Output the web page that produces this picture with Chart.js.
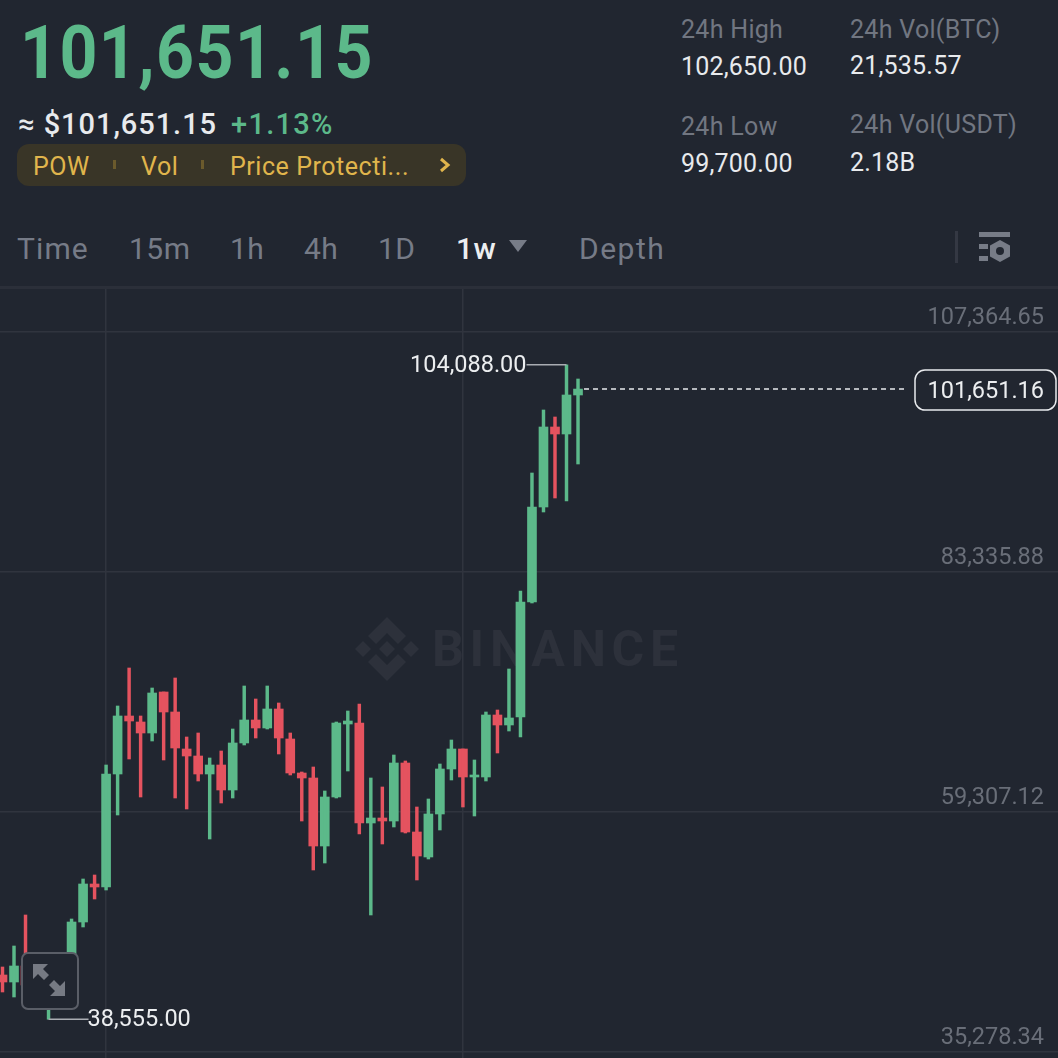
<!DOCTYPE html>
<html>
<head>
<meta charset="utf-8">
<script src="https://cdn.jsdelivr.net/npm/chart.js@4"></script>
<style>
  html, body { margin: 0; padding: 0; background: #212630; }
  body { width: 1058px; height: 1058px; position: relative; overflow: hidden; font-family: Roboto, sans-serif; }
  .t { position: absolute; white-space: nowrap; line-height: 1; }
  .label { font-size: 25px; color: #717681; letter-spacing: 0.3px; }
  .val { font-size: 25px; color: #e8eaed; letter-spacing: 0.2px; }
  .tab { font-size: 30px; color: #767b87; top: 234px; letter-spacing: 0.5px; }
  .chip { font-size: 25px; color: #e0b54c; top: 154px; letter-spacing: 0.55px; }
  .sep { position: absolute; top: 160px; width: 3px; height: 9px; background: #6b5a2c; }
  #chartBox { position: absolute; left: 0; top: 289px; width: 1058px; height: 769px; }
</style>
</head>
<body>
<span class="t" style="left:20px;top:16px;font-size:74px;font-weight:700;color:#5cb98a;letter-spacing:1.6px;transform:scaleX(0.895);transform-origin:left top">101,651.15</span>
<span class="t" style="left:18px;top:110px;font-size:29px;font-weight:500;color:#e8eaed;letter-spacing:0.95px">≈ $101,651.15</span>
<span class="t" style="left:231px;top:110px;font-size:29px;font-weight:500;color:#5cb98a;letter-spacing:1.3px">+1.13%</span>

<div style="position:absolute;left:17px;top:144px;width:449px;height:42px;border-radius:12px;background:#393527"></div>
<span class="t chip" style="left:33px">POW</span>
<div class="sep" style="left:113px"></div>
<span class="t chip" style="left:141px">Vol</span>
<div class="sep" style="left:201px"></div>
<span class="t chip" style="left:230px">Price Protecti...</span>
<svg style="position:absolute;left:438px;top:157px" width="14" height="16"><path d="M3 2 L10 8 L3 14" fill="none" stroke="#e0b54c" stroke-width="3"/></svg>

<span class="t label" style="left:681px;top:17px">24h High</span>
<span class="t val" style="left:681px;top:54px">102,650.00</span>
<span class="t label" style="left:850px;top:17px">24h Vol(BTC)</span>
<span class="t val" style="left:850px;top:53px">21,535.57</span>
<span class="t label" style="left:681px;top:114px">24h Low</span>
<span class="t val" style="left:681px;top:151px">99,700.00</span>
<span class="t label" style="left:850px;top:112px">24h Vol(USDT)</span>
<span class="t val" style="left:850px;top:150px">2.18B</span>

<span class="t tab" style="left:17px;letter-spacing:1.1px">Time</span>
<span class="t tab" style="left:129px">15m</span>
<span class="t tab" style="left:230px">1h</span>
<span class="t tab" style="left:304px">4h</span>
<span class="t tab" style="left:378px">1D</span>
<span class="t tab" style="left:456px;color:#eceef0;font-weight:500">1w</span>
<svg style="position:absolute;left:509px;top:240px" width="18" height="12"><path d="M0 0 H18 L9 12 Z" fill="#777c87"/></svg>
<span class="t tab" style="left:579px;letter-spacing:1.5px">Depth</span>
<div style="position:absolute;left:955px;top:231px;width:3px;height:32px;background:#343843"></div>
<svg style="position:absolute;left:979px;top:231px" width="32" height="32">
  <rect x="0" y="1" width="31" height="5" fill="#777c87"/>
  <rect x="0" y="13" width="9" height="5" fill="#777c87"/>
  <rect x="0" y="25" width="9" height="5" fill="#777c87"/>
  <path d="M21 9 L31 14.5 V25.5 L21 31 L11 25.5 V14.5 Z" fill="#777c87"/>
  <circle cx="21" cy="20" r="4" fill="#212630"/>
</svg>
<div style="position:absolute;left:0;top:286px;width:1058px;height:3px;background:#2b2f39"></div>

<svg style="position:absolute;left:354px;top:616px" width="66" height="66" viewBox="0 0 66 66" fill="#2d313b">
  <path d="M33 1 L52 20 L44 28 L33 17 L22 28 L14 20 Z"/>
  <path d="M33 65 L52 46 L44 38 L33 49 L22 38 L14 46 Z"/>
  <path d="M33 25 L41 33 L33 41 L25 33 Z"/>
  <path d="M9 25 L17 33 L9 41 L1 33 Z"/>
  <path d="M57 25 L65 33 L57 41 L49 33 Z"/>
</svg>
<span class="t" style="left:432px;top:624px;font-size:50px;font-weight:700;color:#2d313b;letter-spacing:5.7px">BINANCE</span>

<div id="chartBox"><canvas id="chart" width="1058" height="769"></canvas></div>

<div style="position:absolute;left:21px;top:952px;width:54px;height:54px;border:2px solid #5a5e67;border-radius:7px;background:#212630"></div>
<svg style="position:absolute;left:32px;top:963px" width="34" height="34" fill="#767a83">
  <path d="M1 1 H16 L11 6 L17 12 L12 17 L6 11 L1 16 Z"/>
  <path d="M33 33 H18 L23 28 L17 22 L22 17 L28 23 L33 18 Z"/>
</svg>

<script>
// weekly BTC/USDT candles, oldest first
var opens = [42988, 42287, 43889, 40485, 40485, 42988, 44490, 48294, 52099, 51799, 63112, 68919, 68318, 67217, 71322, 69320, 65615, 64914, 63112, 64013, 61510, 66216, 68519, 67718, 69620, 66616, 63212, 62712, 55903, 60809, 68118, 68218, 58206, 58707, 58406, 64213, 57305, 54802, 59107, 63613, 65615, 62812, 62812, 69019, 68018, 68819, 80333, 89844, 97854, 97153, 101058];
var highs = [43789, 45891, 48995, 42487, 43989, 44990, 48595, 52600, 53000, 64013, 69920, 73725, 68919, 71722, 71322, 72724, 66817, 67217, 64714, 65415, 67618, 71923, 70621, 71923, 70221, 67217, 63312, 63813, 61410, 68318, 69420, 70121, 62712, 61811, 65014, 64414, 59808, 60609, 64113, 66516, 65615, 64514, 69320, 69520, 73625, 81434, 93248, 99556, 98855, 104088, 102660];
var lows = [41286, 40785, 40685, 40185, 38555, 41987, 43989, 47794, 50597, 51498, 59007, 64614, 60809, 66416, 64514, 60709, 59608, 62411, 56604, 60209, 60709, 66016, 66716, 67618, 65115, 63012, 58406, 53501, 54201, 60709, 63412, 57105, 48995, 56104, 57806, 57205, 52499, 54602, 57505, 62511, 59808, 58907, 62411, 65215, 67417, 66817, 80233, 89344, 90745, 90445, 94149];
var closes = [42287, 43889, 41987, 41987, 42988, 44490, 48294, 52099, 51799, 63112, 68919, 68418, 67217, 71222, 69320, 65715, 64914, 63112, 64013, 61510, 66216, 68519, 67718, 69620, 66716, 63212, 62712, 55903, 60809, 68218, 68418, 58206, 58707, 58406, 64213, 57305, 54902, 59107, 63613, 65615, 62812, 63012, 69019, 68018, 68719, 80333, 89844, 97854, 97153, 101058, 101651];
var weeks = opens.map(function (v, i) { return i; });

var priceTicks = [35278.34, 59307.12, 83335.88, 107364.65];
var lastPrice = 101651.16;
var highMark = { week: 49, price: 104088 };
var lowMark = { week: 4, price: 38555 };
var gridWeeks = [9, 40];

var green = '#5cb98a';
var red = '#e5535f';
var gridColor = '#30343e';

function money(v) {
  return v.toLocaleString('en-US', { minimumFractionDigits: 2, maximumFractionDigits: 2 });
}

// the labels sit inside the plot, so no room has to be kept for them
function noPadding(axis) {
  axis.paddingTop = 0;
  axis.paddingBottom = 0;
  axis.paddingLeft = 0;
  axis.paddingRight = 0;
  if (axis.axis === 'y') axis.width = 0;
}

var candleColors = closes.map(function (c, i) {
  return c >= opens[i] ? green : red;
});

// price line, high/low callouts
var annotations = {
  id: 'annotations',
  afterDatasetsDraw: function (chart) {
    var ctx = chart.ctx;
    var x = chart.scales.x, y = chart.scales.y;
    ctx.save();
    ctx.font = '23.5px Roboto';
    ctx.textBaseline = 'middle';

    // highest week
    var hx = x.getPixelForValue(highMark.week), hy = y.getPixelForValue(highMark.price);
    ctx.strokeStyle = '#a9acb2';
    ctx.lineWidth = 1.5;
    ctx.beginPath();
    ctx.moveTo(hx - 40, hy);
    ctx.lineTo(hx, hy);
    ctx.stroke();
    ctx.fillStyle = '#eceef0';
    ctx.textAlign = 'right';
    ctx.fillText(money(highMark.price), hx - 40, hy + 1);

    // lowest week
    var lx = x.getPixelForValue(lowMark.week), ly = y.getPixelForValue(lowMark.price);
    ctx.beginPath();
    ctx.moveTo(lx, ly);
    ctx.lineTo(lx + 40, ly);
    ctx.stroke();
    ctx.textAlign = 'left';
    ctx.fillText(money(lowMark.price), lx + 39, ly + 1);

    // last price
    var py = y.getPixelForValue(lastPrice);
    ctx.strokeStyle = '#e8eaed';
    ctx.setLineDash([5, 4]);
    ctx.beginPath();
    ctx.moveTo(x.getPixelForValue(weeks.length - 1) + 6, py);
    ctx.lineTo(904, py);
    ctx.stroke();
    ctx.setLineDash([]);
    ctx.beginPath();
    ctx.roundRect(915, py - 19, 141, 40, 10);
    ctx.fillStyle = '#212630';
    ctx.fill();
    ctx.lineWidth = 1.5;
    ctx.stroke();
    ctx.fillStyle = '#eceef0';
    ctx.textAlign = 'right';
    ctx.fillText(money(lastPrice), 1044, py + 3);
    ctx.restore();
  }
};

new Chart(document.getElementById('chart').getContext('2d'), {
  type: 'bar',
  data: {
    datasets: [
      {
        label: 'Wick',
        data: weeks.map(function (w, i) { return { x: w, y: [lows[i], highs[i]] }; }),
        backgroundColor: candleColors,
        barThickness: 2.8,
        grouped: false
      },
      {
        label: 'Body',
        data: weeks.map(function (w, i) { return { x: w, y: [opens[i], closes[i]] }; }),
        backgroundColor: candleColors,
        barThickness: 9,
        grouped: false
      }
    ]
  },
  options: {
    responsive: false,
    animation: false,
    layout: { padding: 0 },
    plugins: { legend: { display: false }, tooltip: { enabled: false } },
    scales: {
      x: {
        type: 'linear',
        offset: false,
        min: -0.217,
        max: 91.7,
        afterBuildTicks: function (axis) {
          axis.ticks = gridWeeks.map(function (w) { return { value: w }; });
        },
        afterFit: noPadding,
        ticks: { display: false },
        border: { display: false },
        grid: { offset: false, color: gridColor, drawTicks: false, lineWidth: 1.5 }
      },
      y: {
        position: 'right',
        min: 34677.6,
        max: 111669.8,
        afterBuildTicks: function (axis) {
          axis.ticks = priceTicks.map(function (p) { return { value: p }; });
        },
        afterFit: noPadding,
        ticks: {
          mirror: true,
          padding: -14,
          labelOffset: -14,
          color: '#696e78',
          font: { family: 'Roboto', size: 23.5 },
          callback: function (v) { return money(v); }
        },
        border: { display: false },
        grid: { color: gridColor, drawTicks: false, lineWidth: 1.5 }
      }
    }
  },
  plugins: [annotations]
});
</script>
</body>
</html>
